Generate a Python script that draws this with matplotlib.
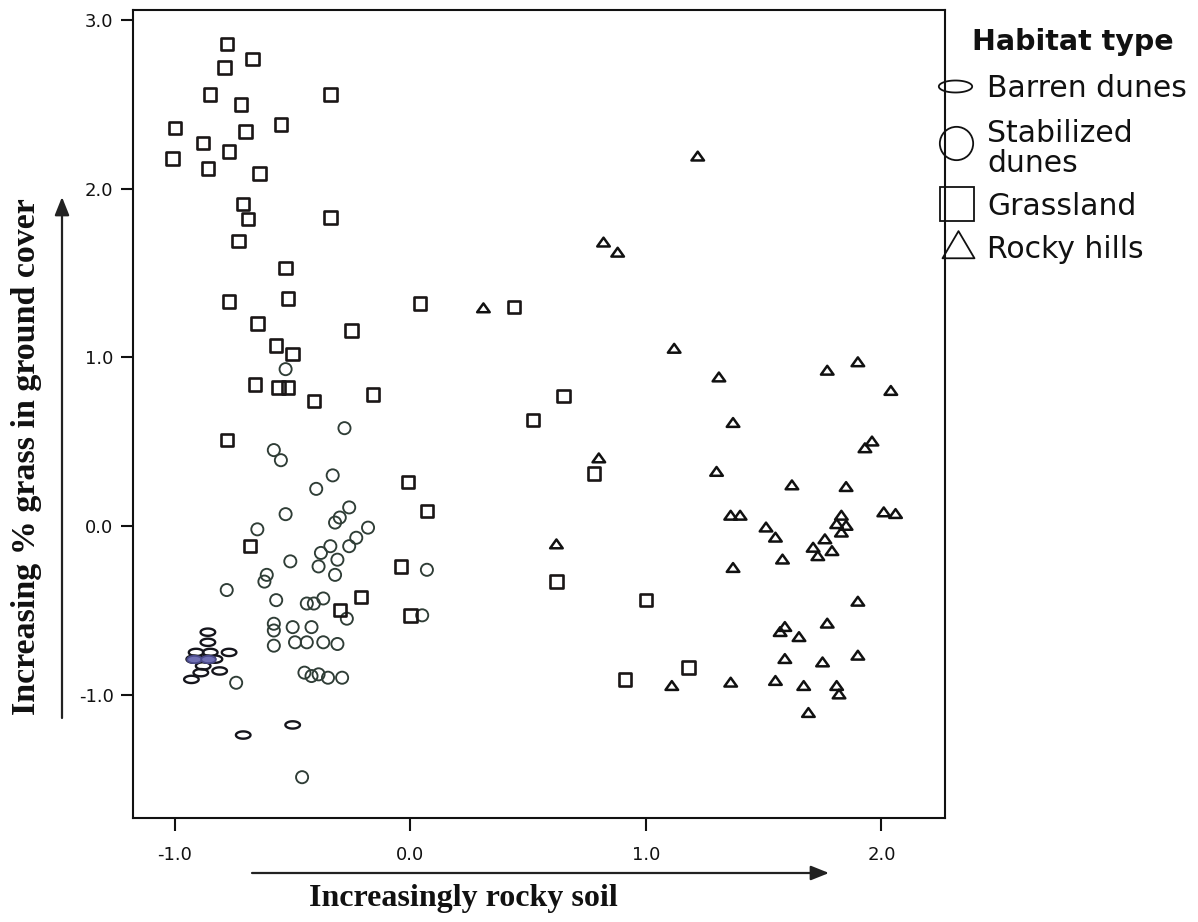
import matplotlib
matplotlib.use("Agg")
import matplotlib.pyplot as plt
import numpy as np
from matplotlib.path import Path
from matplotlib.lines import Line2D
from matplotlib.patches import FancyArrowPatch
from matplotlib.ticker import FormatStrFormatter

plt.rcParams['axes.unicode_minus'] = False
plt.rcParams['font.family'] = ['DejaVu Sans']

# ---------------- data ----------------
habitats = ["Barren dunes", "Stabilized\ndunes", "Grassland", "Rocky hills"]

barren_x = [-0.86, -0.86, -0.91, -0.85, -0.77, -0.92, -0.86, -0.83, -0.88, -0.81,
            -0.89, -0.93, -0.71, -0.50]
barren_y = [-0.63, -0.69, -0.75, -0.75, -0.75, -0.79, -0.79, -0.79, -0.83, -0.86,
            -0.87, -0.91, -1.24, -1.18]

stab_x = [-0.53, -0.28, -0.58, -0.55, -0.33, -0.40, -0.53, -0.65, -0.26, -0.30,
          -0.32, -0.18, -0.23, -0.26, -0.34, -0.38, -0.31, -0.39, -0.32, -0.51,
          -0.61, -0.62, 0.07, -0.57, -0.44, -0.41, -0.37, -0.27, -0.58, -0.58,
          -0.50, -0.42, -0.58, -0.49, -0.44, -0.37, -0.31, -0.45, -0.42, -0.39,
          -0.35, -0.29, 0.05, -0.78, -0.74, -0.46]
stab_y = [0.93, 0.58, 0.45, 0.39, 0.30, 0.22, 0.07, -0.02, 0.11, 0.05,
          0.02, -0.01, -0.07, -0.12, -0.12, -0.16, -0.20, -0.24, -0.29, -0.21,
          -0.29, -0.33, -0.26, -0.44, -0.46, -0.46, -0.43, -0.55, -0.58, -0.62,
          -0.60, -0.60, -0.71, -0.69, -0.69, -0.69, -0.70, -0.87, -0.89, -0.88,
          -0.90, -0.90, -0.53, -0.38, -0.93, -1.49]

grass_x = [-0.78, -0.67, -0.79, -0.85, -0.72, -0.34, -1.00, -0.70, -0.55, -0.88,
           -0.77, -1.01, -0.86, -0.64, -0.71, -0.69, -0.34, -0.73, -0.53, -0.77,
           -0.52, 0.04, 0.44, -0.65, -0.25, -0.57, -0.50, -0.66, -0.56, -0.52,
           -0.41, -0.16, -0.78, 0.65, 0.52, 0.78, -0.01, 0.07, -0.68, -0.04,
           -0.21, -0.30, 0.00, 0.62, 1.00, 1.18, 0.91]
grass_y = [2.86, 2.77, 2.72, 2.56, 2.50, 2.56, 2.36, 2.34, 2.38, 2.27,
           2.22, 2.18, 2.12, 2.09, 1.91, 1.82, 1.83, 1.69, 1.53, 1.33,
           1.35, 1.32, 1.30, 1.20, 1.16, 1.07, 1.02, 0.84, 0.82, 0.82,
           0.74, 0.78, 0.51, 0.77, 0.63, 0.31, 0.26, 0.09, -0.12, -0.24,
           -0.42, -0.50, -0.53, -0.33, -0.44, -0.84, -0.91]

rocky_x = [1.22, 0.82, 0.88, 0.31, 1.12, 1.31, 1.37, 1.77, 1.90, 2.04,
           1.96, 1.93, 0.80, 1.30, 1.62, 1.85, 1.36, 1.40, 1.51, 1.55,
           1.83, 1.81, 1.85, 1.83, 2.01, 2.06, 1.76, 1.71, 1.79, 1.73,
           1.58, 1.37, 0.62, 1.90, 1.77, 1.59, 1.57, 1.65, 1.59, 1.75,
           1.90, 1.11, 1.36, 1.55, 1.67, 1.81, 1.82, 1.69]
rocky_y = [2.19, 1.68, 1.62, 1.29, 1.05, 0.88, 0.61, 0.92, 0.97, 0.80,
           0.50, 0.46, 0.40, 0.32, 0.24, 0.23, 0.06, 0.06, -0.01, -0.07,
           0.06, 0.01, 0.00, -0.04, 0.08, 0.07, -0.08, -0.13, -0.15, -0.18,
           -0.20, -0.25, -0.11, -0.45, -0.58, -0.60, -0.63, -0.66, -0.79, -0.81,
           -0.77, -0.95, -0.93, -0.92, -0.95, -0.95, -1.00, -1.11]

x_ticks = [-1.0, 0.0, 1.0, 2.0]
y_ticks = [-1.0, 0.0, 1.0, 2.0, 3.0]
x_label = "Increasingly rocky soil"
y_label = "Increasing % grass in ground cover"
legend_title = "Habitat type"

# ---------------- figure ----------------
W, H = 1198, 922
fig = plt.figure(figsize=(W / 100, H / 100), dpi=100)
fig.patch.set_facecolor("white")


def fx(px):
    return px / W


def fy(py):
    return 1 - py / H


ax = fig.add_axes([fx(133), fy(818), (945 - 133) / W, (818 - 10) / H])
ax.set_xlim(-1.178, 2.270)
ax.set_ylim(-1.732, 3.06)

# marker shapes
t = np.linspace(0, 2 * np.pi, 80)
ellipse_data = Path(np.column_stack([np.cos(t), 0.5 * np.sin(t)]), closed=True)
ellipse_leg = Path(np.column_stack([np.cos(t), 0.36 * np.sin(t)]), closed=True)
tri_data = Path([(-1, -0.6), (1, -0.6), (0, 0.8), (-1, -0.6)], closed=True)
tri_leg = Path([(-1, -0.8), (1, -0.8), (0, 0.9), (-1, -0.8)], closed=True)

circ_col = "#2f3d36"
ax.scatter(stab_x, stab_y, s=76, marker="o", facecolors="none",
           edgecolors=circ_col, linewidths=1.35, zorder=3)
ax.scatter(grass_x, grass_y, s=80, marker="s", facecolors="none",
           edgecolors="#1a1616", linewidths=1.9, zorder=3)
ax.scatter(barren_x, barren_y, s=110, marker=ellipse_data, facecolors="none",
           edgecolors="#15151c", linewidths=1.7, zorder=4)
filled_idx = [5, 6]
ax.scatter([barren_x[i] for i in filled_idx], [barren_y[i] for i in filled_idx],
           s=110, marker=ellipse_data, facecolors="#7070b4",
           edgecolors="#4a4a8a", linewidths=1.3, zorder=5)
ax.scatter(rocky_x, rocky_y, s=82, marker=tri_data, facecolors="none",
           edgecolors="#111111", linewidths=1.8, zorder=3)

# axes styling
for sp in ax.spines.values():
    sp.set_linewidth(1.5)
    sp.set_color("#111111")
ax.set_xticks(x_ticks)
ax.set_yticks(y_ticks)
ax.xaxis.set_major_formatter(FormatStrFormatter("%.1f"))
ax.yaxis.set_major_formatter(FormatStrFormatter("%.1f"))
ax.tick_params(axis="both", direction="out", length=9, width=1.5,
               labelsize=13, colors="#111111")
ax.tick_params(axis="x", pad=11)
ax.tick_params(axis="y", pad=5)

# axis labels (as free text with arrows)
fig.text(fx(463), fy(898), x_label, family="Liberation Serif", weight="bold",
         size=23, ha="center", va="center", color="#111111")
fig.text(fx(27), fy(457), y_label, family="Liberation Serif", weight="bold",
         size=24.5, ha="center", va="center", rotation=90, color="#111111")

arrow_kw = dict(transform=fig.transFigure, arrowstyle="-|>,head_length=0.55,head_width=0.22",
                mutation_scale=20, lw=1.6, color="#222222", shrinkA=0, shrinkB=0)
fig.add_artist(FancyArrowPatch((fx(252), fy(873)), (fx(829), fy(873)), **arrow_kw))
fig.add_artist(FancyArrowPatch((fx(62), fy(718)), (fx(62), fy(197)), **arrow_kw))

# legend (drawn manually to match placement)
fig.text(fx(972), fy(50), legend_title, size=20.5, weight="bold",
         ha="left", va="baseline", color="#111111")
leg_markers = [(ellipse_leg, 24, (955, 86)), ("o", 24, (956, 143)),
               ("s", 24.5, (957, 204)), (tri_leg, 23, (958, 245))]
# baseline of the last line of each label
leg_baselines = [97, 172, 215, 258]
for (mk, ms, (mx, my)), lab, base in zip(leg_markers, habitats, leg_baselines):
    fig.add_artist(Line2D([fx(mx)], [fy(my)], transform=fig.transFigure, marker=mk,
                          markersize=ms, mfc="none", mec="#111111", mew=1.3, ls="none"))
    fig.text(fx(987), fy(base), lab, size=21.5, ha="left", va="baseline",
             linespacing=1.05, color="#111111")

fig.savefig("out.png", dpi=100, facecolor="white")
